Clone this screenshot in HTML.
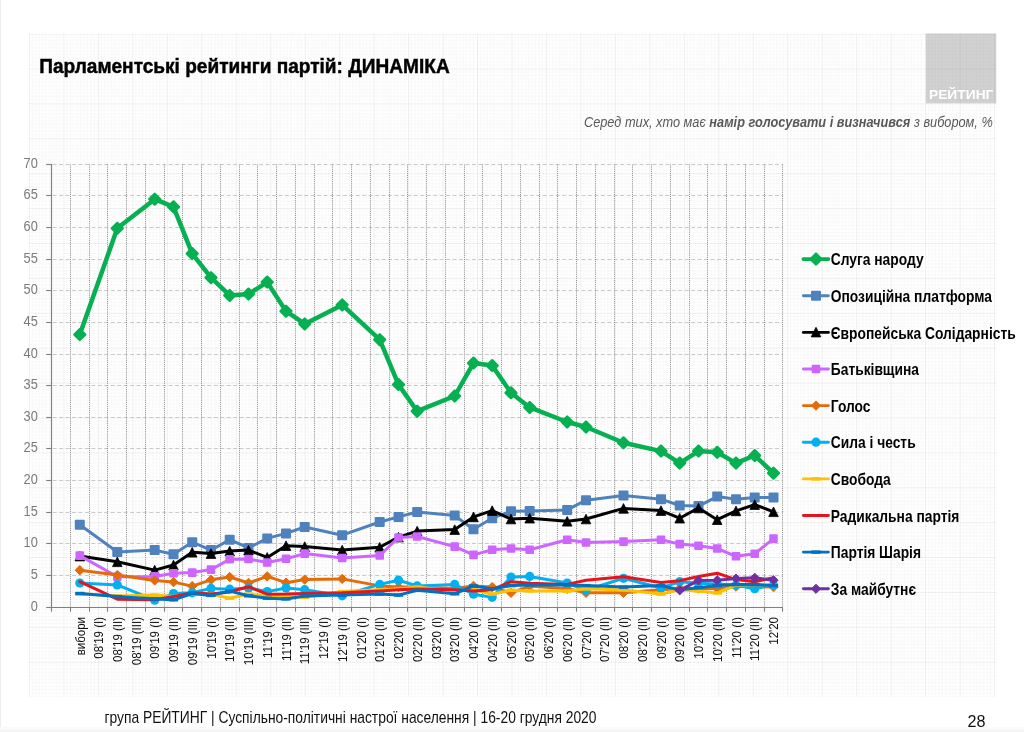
<!DOCTYPE html>
<html lang="uk"><head><meta charset="utf-8"><title>Парламентські рейтинги партій: ДИНАМІКА</title>
<style>
html,body{margin:0;padding:0;background:#fff;}
body{width:1024px;height:732px;overflow:hidden;font-family:"Liberation Sans",sans-serif;}
svg{display:block;}
svg text{font-family:"Liberation Sans",sans-serif;}
</style></head><body>
<svg width="1024" height="732" viewBox="0 0 1024 732">
<defs>
<pattern id="gp" x="28.9" y="33.6" width="34.47" height="34.9" patternUnits="userSpaceOnUse">
<path d="M3.45 0V34.9M6.89 0V34.9M10.34 0V34.9M13.79 0V34.9M17.23 0V34.9M20.68 0V34.9M24.13 0V34.9M27.58 0V34.9M31.02 0V34.9M0 3.49H34.47M0 6.98H34.47M0 10.47H34.47M0 13.96H34.47M0 17.45H34.47M0 20.94H34.47M0 24.43H34.47M0 27.92H34.47M0 31.41H34.47" stroke="#000" stroke-opacity="0.03" stroke-width="0.7" fill="none"/>
<path d="M0.5 0V34.9M0 0.5H34.47" stroke="#000" stroke-opacity="0.085" stroke-width="0.7" fill="none"/>
</pattern>
</defs>
<rect width="1024" height="732" fill="#ffffff"/>
<rect x="0" y="0" width="1" height="732" fill="#eeeeee"/>
<rect x="0" y="727" width="1024" height="5" fill="#fafafa"/>
<rect x="0" y="730" width="1024" height="2" fill="#f4f4f4"/>

<rect x="925.8" y="33.5" width="70.4" height="69.8" fill="#d2d2d2"/>
<rect x="28.9" y="33.6" width="967.4" height="663.2" fill="url(#gp)"/>
<text x="961.2" y="99.4" font-size="13.3" font-weight="bold" fill="#ffffff" text-anchor="middle" textLength="64.5" lengthAdjust="spacingAndGlyphs">РЕЙТИНГ</text>
<text transform="translate(39.2,72.7) scale(0.94,1)" font-size="20.3" font-weight="bold" fill="#000" stroke="#000" stroke-width="0.45">Парламентські рейтинги партій: ДИНАМІКА</text>
<text transform="translate(992.8,126.5) scale(0.875,1)" font-size="14.6" font-style="italic" fill="#595959" text-anchor="end">Серед тих, хто має <tspan font-weight="bold">намір голосувати і визначився</tspan> з вибором, %</text>
<line x1="52.63" x2="783" y1="575.5" y2="575.5" stroke="#cacaca" stroke-width="1" stroke-dasharray="4 2.45"/>
<line x1="52.63" x2="783" y1="543.5" y2="543.5" stroke="#cacaca" stroke-width="1" stroke-dasharray="4 2.45"/>
<line x1="52.63" x2="783" y1="512.5" y2="512.5" stroke="#cacaca" stroke-width="1" stroke-dasharray="4 2.45"/>
<line x1="52.63" x2="783" y1="480.5" y2="480.5" stroke="#cacaca" stroke-width="1" stroke-dasharray="4 2.45"/>
<line x1="52.63" x2="783" y1="448.5" y2="448.5" stroke="#cacaca" stroke-width="1" stroke-dasharray="4 2.45"/>
<line x1="52.63" x2="783" y1="417.5" y2="417.5" stroke="#cacaca" stroke-width="1" stroke-dasharray="4 2.45"/>
<line x1="52.63" x2="783" y1="385.5" y2="385.5" stroke="#cacaca" stroke-width="1" stroke-dasharray="4 2.45"/>
<line x1="52.63" x2="783" y1="354.5" y2="354.5" stroke="#cacaca" stroke-width="1" stroke-dasharray="4 2.45"/>
<line x1="52.63" x2="783" y1="322.5" y2="322.5" stroke="#cacaca" stroke-width="1" stroke-dasharray="4 2.45"/>
<line x1="52.63" x2="783" y1="290.5" y2="290.5" stroke="#cacaca" stroke-width="1" stroke-dasharray="4 2.45"/>
<line x1="52.63" x2="783" y1="259.5" y2="259.5" stroke="#cacaca" stroke-width="1" stroke-dasharray="4 2.45"/>
<line x1="52.63" x2="783" y1="227.5" y2="227.5" stroke="#cacaca" stroke-width="1" stroke-dasharray="4 2.45"/>
<line x1="52.63" x2="783" y1="195.5" y2="195.5" stroke="#cacaca" stroke-width="1" stroke-dasharray="4 2.45"/>
<line x1="52.63" x2="783" y1="164.5" y2="164.5" stroke="#cacaca" stroke-width="1" stroke-dasharray="4 2.45"/>
<line x1="70.5" x2="70.5" y1="164.5" y2="607" stroke="#8a8a8a" stroke-width="1" stroke-dasharray="1 1.1"/>
<line x1="89.5" x2="89.5" y1="164.5" y2="607" stroke="#8a8a8a" stroke-width="1" stroke-dasharray="1 1.1"/>
<line x1="107.5" x2="107.5" y1="164.5" y2="607" stroke="#8a8a8a" stroke-width="1" stroke-dasharray="1 1.1"/>
<line x1="126.5" x2="126.5" y1="164.5" y2="607" stroke="#8a8a8a" stroke-width="1" stroke-dasharray="1 1.1"/>
<line x1="145.5" x2="145.5" y1="164.5" y2="607" stroke="#8a8a8a" stroke-width="1" stroke-dasharray="1 1.1"/>
<line x1="164.5" x2="164.5" y1="164.5" y2="607" stroke="#8a8a8a" stroke-width="1" stroke-dasharray="1 1.1"/>
<line x1="182.5" x2="182.5" y1="164.5" y2="607" stroke="#8a8a8a" stroke-width="1" stroke-dasharray="1 1.1"/>
<line x1="201.5" x2="201.5" y1="164.5" y2="607" stroke="#8a8a8a" stroke-width="1" stroke-dasharray="1 1.1"/>
<line x1="220.5" x2="220.5" y1="164.5" y2="607" stroke="#8a8a8a" stroke-width="1" stroke-dasharray="1 1.1"/>
<line x1="239.5" x2="239.5" y1="164.5" y2="607" stroke="#8a8a8a" stroke-width="1" stroke-dasharray="1 1.1"/>
<line x1="257.5" x2="257.5" y1="164.5" y2="607" stroke="#8a8a8a" stroke-width="1" stroke-dasharray="1 1.1"/>
<line x1="276.5" x2="276.5" y1="164.5" y2="607" stroke="#8a8a8a" stroke-width="1" stroke-dasharray="1 1.1"/>
<line x1="295.5" x2="295.5" y1="164.5" y2="607" stroke="#8a8a8a" stroke-width="1" stroke-dasharray="1 1.1"/>
<line x1="314.5" x2="314.5" y1="164.5" y2="607" stroke="#8a8a8a" stroke-width="1" stroke-dasharray="1 1.1"/>
<line x1="332.5" x2="332.5" y1="164.5" y2="607" stroke="#8a8a8a" stroke-width="1" stroke-dasharray="1 1.1"/>
<line x1="351.5" x2="351.5" y1="164.5" y2="607" stroke="#8a8a8a" stroke-width="1" stroke-dasharray="1 1.1"/>
<line x1="370.5" x2="370.5" y1="164.5" y2="607" stroke="#8a8a8a" stroke-width="1" stroke-dasharray="1 1.1"/>
<line x1="389.5" x2="389.5" y1="164.5" y2="607" stroke="#8a8a8a" stroke-width="1" stroke-dasharray="1 1.1"/>
<line x1="407.5" x2="407.5" y1="164.5" y2="607" stroke="#8a8a8a" stroke-width="1" stroke-dasharray="1 1.1"/>
<line x1="426.5" x2="426.5" y1="164.5" y2="607" stroke="#8a8a8a" stroke-width="1" stroke-dasharray="1 1.1"/>
<line x1="445.5" x2="445.5" y1="164.5" y2="607" stroke="#8a8a8a" stroke-width="1" stroke-dasharray="1 1.1"/>
<line x1="464.5" x2="464.5" y1="164.5" y2="607" stroke="#8a8a8a" stroke-width="1" stroke-dasharray="1 1.1"/>
<line x1="482.5" x2="482.5" y1="164.5" y2="607" stroke="#8a8a8a" stroke-width="1" stroke-dasharray="1 1.1"/>
<line x1="501.5" x2="501.5" y1="164.5" y2="607" stroke="#8a8a8a" stroke-width="1" stroke-dasharray="1 1.1"/>
<line x1="520.5" x2="520.5" y1="164.5" y2="607" stroke="#8a8a8a" stroke-width="1" stroke-dasharray="1 1.1"/>
<line x1="539.5" x2="539.5" y1="164.5" y2="607" stroke="#8a8a8a" stroke-width="1" stroke-dasharray="1 1.1"/>
<line x1="557.5" x2="557.5" y1="164.5" y2="607" stroke="#8a8a8a" stroke-width="1" stroke-dasharray="1 1.1"/>
<line x1="576.5" x2="576.5" y1="164.5" y2="607" stroke="#8a8a8a" stroke-width="1" stroke-dasharray="1 1.1"/>
<line x1="595.5" x2="595.5" y1="164.5" y2="607" stroke="#8a8a8a" stroke-width="1" stroke-dasharray="1 1.1"/>
<line x1="614.5" x2="614.5" y1="164.5" y2="607" stroke="#8a8a8a" stroke-width="1" stroke-dasharray="1 1.1"/>
<line x1="632.5" x2="632.5" y1="164.5" y2="607" stroke="#8a8a8a" stroke-width="1" stroke-dasharray="1 1.1"/>
<line x1="651.5" x2="651.5" y1="164.5" y2="607" stroke="#8a8a8a" stroke-width="1" stroke-dasharray="1 1.1"/>
<line x1="670.5" x2="670.5" y1="164.5" y2="607" stroke="#8a8a8a" stroke-width="1" stroke-dasharray="1 1.1"/>
<line x1="689.5" x2="689.5" y1="164.5" y2="607" stroke="#8a8a8a" stroke-width="1" stroke-dasharray="1 1.1"/>
<line x1="707.5" x2="707.5" y1="164.5" y2="607" stroke="#8a8a8a" stroke-width="1" stroke-dasharray="1 1.1"/>
<line x1="726.5" x2="726.5" y1="164.5" y2="607" stroke="#8a8a8a" stroke-width="1" stroke-dasharray="1 1.1"/>
<line x1="745.5" x2="745.5" y1="164.5" y2="607" stroke="#8a8a8a" stroke-width="1" stroke-dasharray="1 1.1"/>
<line x1="764.5" x2="764.5" y1="164.5" y2="607" stroke="#8a8a8a" stroke-width="1" stroke-dasharray="1 1.1"/>
<line x1="782.5" x2="782.5" y1="164.5" y2="607" stroke="#8a8a8a" stroke-width="1" stroke-dasharray="1 1.1"/>
<line x1="51.5" x2="51.5" y1="164.0" y2="608" stroke="#808080" stroke-width="1.15"/>
<line x1="51" x2="783" y1="607.5" y2="607.5" stroke="#808080" stroke-width="1.15"/>
<line x1="46.2" x2="51.5" y1="607.5" y2="607.5" stroke="#808080" stroke-width="1.1"/>
<text transform="translate(37.8,611.1) scale(0.875,1)" font-size="14.6" fill="#7a7a7a" text-anchor="end">0</text>
<line x1="46.2" x2="51.5" y1="575.5" y2="575.5" stroke="#808080" stroke-width="1.1"/>
<text transform="translate(37.8,579.1) scale(0.875,1)" font-size="14.6" fill="#7a7a7a" text-anchor="end">5</text>
<line x1="46.2" x2="51.5" y1="543.5" y2="543.5" stroke="#808080" stroke-width="1.1"/>
<text transform="translate(37.8,547.1) scale(0.875,1)" font-size="14.6" fill="#7a7a7a" text-anchor="end">10</text>
<line x1="46.2" x2="51.5" y1="512.5" y2="512.5" stroke="#808080" stroke-width="1.1"/>
<text transform="translate(37.8,516.1) scale(0.875,1)" font-size="14.6" fill="#7a7a7a" text-anchor="end">15</text>
<line x1="46.2" x2="51.5" y1="480.5" y2="480.5" stroke="#808080" stroke-width="1.1"/>
<text transform="translate(37.8,484.1) scale(0.875,1)" font-size="14.6" fill="#7a7a7a" text-anchor="end">20</text>
<line x1="46.2" x2="51.5" y1="448.5" y2="448.5" stroke="#808080" stroke-width="1.1"/>
<text transform="translate(37.8,452.1) scale(0.875,1)" font-size="14.6" fill="#7a7a7a" text-anchor="end">25</text>
<line x1="46.2" x2="51.5" y1="417.5" y2="417.5" stroke="#808080" stroke-width="1.1"/>
<text transform="translate(37.8,421.1) scale(0.875,1)" font-size="14.6" fill="#7a7a7a" text-anchor="end">30</text>
<line x1="46.2" x2="51.5" y1="385.5" y2="385.5" stroke="#808080" stroke-width="1.1"/>
<text transform="translate(37.8,389.1) scale(0.875,1)" font-size="14.6" fill="#7a7a7a" text-anchor="end">35</text>
<line x1="46.2" x2="51.5" y1="354.5" y2="354.5" stroke="#808080" stroke-width="1.1"/>
<text transform="translate(37.8,358.1) scale(0.875,1)" font-size="14.6" fill="#7a7a7a" text-anchor="end">40</text>
<line x1="46.2" x2="51.5" y1="322.5" y2="322.5" stroke="#808080" stroke-width="1.1"/>
<text transform="translate(37.8,326.1) scale(0.875,1)" font-size="14.6" fill="#7a7a7a" text-anchor="end">45</text>
<line x1="46.2" x2="51.5" y1="290.5" y2="290.5" stroke="#808080" stroke-width="1.1"/>
<text transform="translate(37.8,294.1) scale(0.875,1)" font-size="14.6" fill="#7a7a7a" text-anchor="end">50</text>
<line x1="46.2" x2="51.5" y1="259.5" y2="259.5" stroke="#808080" stroke-width="1.1"/>
<text transform="translate(37.8,263.1) scale(0.875,1)" font-size="14.6" fill="#7a7a7a" text-anchor="end">55</text>
<line x1="46.2" x2="51.5" y1="227.5" y2="227.5" stroke="#808080" stroke-width="1.1"/>
<text transform="translate(37.8,231.1) scale(0.875,1)" font-size="14.6" fill="#7a7a7a" text-anchor="end">60</text>
<line x1="46.2" x2="51.5" y1="195.5" y2="195.5" stroke="#808080" stroke-width="1.1"/>
<text transform="translate(37.8,199.1) scale(0.875,1)" font-size="14.6" fill="#7a7a7a" text-anchor="end">65</text>
<line x1="46.2" x2="51.5" y1="164.5" y2="164.5" stroke="#808080" stroke-width="1.1"/>
<text transform="translate(37.8,168.1) scale(0.875,1)" font-size="14.6" fill="#7a7a7a" text-anchor="end">70</text>
<line x1="51.5" x2="51.5" y1="607.5" y2="611.7" stroke="#808080" stroke-width="1.1"/>
<line x1="70.5" x2="70.5" y1="607.5" y2="611.7" stroke="#808080" stroke-width="1.1"/>
<line x1="89.5" x2="89.5" y1="607.5" y2="611.7" stroke="#808080" stroke-width="1.1"/>
<line x1="107.5" x2="107.5" y1="607.5" y2="611.7" stroke="#808080" stroke-width="1.1"/>
<line x1="126.5" x2="126.5" y1="607.5" y2="611.7" stroke="#808080" stroke-width="1.1"/>
<line x1="145.5" x2="145.5" y1="607.5" y2="611.7" stroke="#808080" stroke-width="1.1"/>
<line x1="164.5" x2="164.5" y1="607.5" y2="611.7" stroke="#808080" stroke-width="1.1"/>
<line x1="182.5" x2="182.5" y1="607.5" y2="611.7" stroke="#808080" stroke-width="1.1"/>
<line x1="201.5" x2="201.5" y1="607.5" y2="611.7" stroke="#808080" stroke-width="1.1"/>
<line x1="220.5" x2="220.5" y1="607.5" y2="611.7" stroke="#808080" stroke-width="1.1"/>
<line x1="239.5" x2="239.5" y1="607.5" y2="611.7" stroke="#808080" stroke-width="1.1"/>
<line x1="257.5" x2="257.5" y1="607.5" y2="611.7" stroke="#808080" stroke-width="1.1"/>
<line x1="276.5" x2="276.5" y1="607.5" y2="611.7" stroke="#808080" stroke-width="1.1"/>
<line x1="295.5" x2="295.5" y1="607.5" y2="611.7" stroke="#808080" stroke-width="1.1"/>
<line x1="314.5" x2="314.5" y1="607.5" y2="611.7" stroke="#808080" stroke-width="1.1"/>
<line x1="332.5" x2="332.5" y1="607.5" y2="611.7" stroke="#808080" stroke-width="1.1"/>
<line x1="351.5" x2="351.5" y1="607.5" y2="611.7" stroke="#808080" stroke-width="1.1"/>
<line x1="370.5" x2="370.5" y1="607.5" y2="611.7" stroke="#808080" stroke-width="1.1"/>
<line x1="389.5" x2="389.5" y1="607.5" y2="611.7" stroke="#808080" stroke-width="1.1"/>
<line x1="407.5" x2="407.5" y1="607.5" y2="611.7" stroke="#808080" stroke-width="1.1"/>
<line x1="426.5" x2="426.5" y1="607.5" y2="611.7" stroke="#808080" stroke-width="1.1"/>
<line x1="445.5" x2="445.5" y1="607.5" y2="611.7" stroke="#808080" stroke-width="1.1"/>
<line x1="464.5" x2="464.5" y1="607.5" y2="611.7" stroke="#808080" stroke-width="1.1"/>
<line x1="482.5" x2="482.5" y1="607.5" y2="611.7" stroke="#808080" stroke-width="1.1"/>
<line x1="501.5" x2="501.5" y1="607.5" y2="611.7" stroke="#808080" stroke-width="1.1"/>
<line x1="520.5" x2="520.5" y1="607.5" y2="611.7" stroke="#808080" stroke-width="1.1"/>
<line x1="539.5" x2="539.5" y1="607.5" y2="611.7" stroke="#808080" stroke-width="1.1"/>
<line x1="557.5" x2="557.5" y1="607.5" y2="611.7" stroke="#808080" stroke-width="1.1"/>
<line x1="576.5" x2="576.5" y1="607.5" y2="611.7" stroke="#808080" stroke-width="1.1"/>
<line x1="595.5" x2="595.5" y1="607.5" y2="611.7" stroke="#808080" stroke-width="1.1"/>
<line x1="614.5" x2="614.5" y1="607.5" y2="611.7" stroke="#808080" stroke-width="1.1"/>
<line x1="632.5" x2="632.5" y1="607.5" y2="611.7" stroke="#808080" stroke-width="1.1"/>
<line x1="651.5" x2="651.5" y1="607.5" y2="611.7" stroke="#808080" stroke-width="1.1"/>
<line x1="670.5" x2="670.5" y1="607.5" y2="611.7" stroke="#808080" stroke-width="1.1"/>
<line x1="689.5" x2="689.5" y1="607.5" y2="611.7" stroke="#808080" stroke-width="1.1"/>
<line x1="707.5" x2="707.5" y1="607.5" y2="611.7" stroke="#808080" stroke-width="1.1"/>
<line x1="726.5" x2="726.5" y1="607.5" y2="611.7" stroke="#808080" stroke-width="1.1"/>
<line x1="745.5" x2="745.5" y1="607.5" y2="611.7" stroke="#808080" stroke-width="1.1"/>
<line x1="764.5" x2="764.5" y1="607.5" y2="611.7" stroke="#808080" stroke-width="1.1"/>
<line x1="782.5" x2="782.5" y1="607.5" y2="611.7" stroke="#808080" stroke-width="1.1"/>
<text transform="translate(84.5,617) rotate(-90) scale(0.845,1)" font-size="13.6" fill="#111" text-anchor="end">вибори</text>
<text transform="translate(103.2,617) rotate(-90) scale(0.845,1)" font-size="13.6" fill="#111" text-anchor="end">08'19 (I)</text>
<text transform="translate(122.0,617) rotate(-90) scale(0.845,1)" font-size="13.6" fill="#111" text-anchor="end">08'19 (II)</text>
<text transform="translate(140.7,617) rotate(-90) scale(0.845,1)" font-size="13.6" fill="#111" text-anchor="end">08'19 (III)</text>
<text transform="translate(159.4,617) rotate(-90) scale(0.845,1)" font-size="13.6" fill="#111" text-anchor="end">09'19 (I)</text>
<text transform="translate(178.2,617) rotate(-90) scale(0.845,1)" font-size="13.6" fill="#111" text-anchor="end">09'19 (II)</text>
<text transform="translate(196.9,617) rotate(-90) scale(0.845,1)" font-size="13.6" fill="#111" text-anchor="end">09'19 (III)</text>
<text transform="translate(215.7,617) rotate(-90) scale(0.845,1)" font-size="13.6" fill="#111" text-anchor="end">10'19 (I)</text>
<text transform="translate(234.4,617) rotate(-90) scale(0.845,1)" font-size="13.6" fill="#111" text-anchor="end">10'19 (II)</text>
<text transform="translate(253.2,617) rotate(-90) scale(0.845,1)" font-size="13.6" fill="#111" text-anchor="end">10'19 (III)</text>
<text transform="translate(271.9,617) rotate(-90) scale(0.845,1)" font-size="13.6" fill="#111" text-anchor="end">11'19 (I)</text>
<text transform="translate(290.7,617) rotate(-90) scale(0.845,1)" font-size="13.6" fill="#111" text-anchor="end">11'19 (II)</text>
<text transform="translate(309.4,617) rotate(-90) scale(0.845,1)" font-size="13.6" fill="#111" text-anchor="end">11'19 (III)</text>
<text transform="translate(328.2,617) rotate(-90) scale(0.845,1)" font-size="13.6" fill="#111" text-anchor="end">12'19 (I)</text>
<text transform="translate(346.9,617) rotate(-90) scale(0.845,1)" font-size="13.6" fill="#111" text-anchor="end">12'19 (II)</text>
<text transform="translate(365.7,617) rotate(-90) scale(0.845,1)" font-size="13.6" fill="#111" text-anchor="end">01'20 (I)</text>
<text transform="translate(384.4,617) rotate(-90) scale(0.845,1)" font-size="13.6" fill="#111" text-anchor="end">01'20 (II)</text>
<text transform="translate(403.2,617) rotate(-90) scale(0.845,1)" font-size="13.6" fill="#111" text-anchor="end">02'20 (I)</text>
<text transform="translate(421.9,617) rotate(-90) scale(0.845,1)" font-size="13.6" fill="#111" text-anchor="end">02'20 (II)</text>
<text transform="translate(440.7,617) rotate(-90) scale(0.845,1)" font-size="13.6" fill="#111" text-anchor="end">03'20 (I)</text>
<text transform="translate(459.4,617) rotate(-90) scale(0.845,1)" font-size="13.6" fill="#111" text-anchor="end">03'20 (II)</text>
<text transform="translate(478.2,617) rotate(-90) scale(0.845,1)" font-size="13.6" fill="#111" text-anchor="end">04'20 (I)</text>
<text transform="translate(496.9,617) rotate(-90) scale(0.845,1)" font-size="13.6" fill="#111" text-anchor="end">04'20 (II)</text>
<text transform="translate(515.7,617) rotate(-90) scale(0.845,1)" font-size="13.6" fill="#111" text-anchor="end">05'20 (I)</text>
<text transform="translate(534.4,617) rotate(-90) scale(0.845,1)" font-size="13.6" fill="#111" text-anchor="end">05'20 (II)</text>
<text transform="translate(553.2,617) rotate(-90) scale(0.845,1)" font-size="13.6" fill="#111" text-anchor="end">06'20 (I)</text>
<text transform="translate(571.9,617) rotate(-90) scale(0.845,1)" font-size="13.6" fill="#111" text-anchor="end">06'20 (II)</text>
<text transform="translate(590.7,617) rotate(-90) scale(0.845,1)" font-size="13.6" fill="#111" text-anchor="end">07'20 (I)</text>
<text transform="translate(609.4,617) rotate(-90) scale(0.845,1)" font-size="13.6" fill="#111" text-anchor="end">07'20 (II)</text>
<text transform="translate(628.2,617) rotate(-90) scale(0.845,1)" font-size="13.6" fill="#111" text-anchor="end">08'20 (I)</text>
<text transform="translate(646.9,617) rotate(-90) scale(0.845,1)" font-size="13.6" fill="#111" text-anchor="end">08'20 (II)</text>
<text transform="translate(665.7,617) rotate(-90) scale(0.845,1)" font-size="13.6" fill="#111" text-anchor="end">09'20 (I)</text>
<text transform="translate(684.4,617) rotate(-90) scale(0.845,1)" font-size="13.6" fill="#111" text-anchor="end">09'20 (II)</text>
<text transform="translate(703.2,617) rotate(-90) scale(0.845,1)" font-size="13.6" fill="#111" text-anchor="end">10'20 (I)</text>
<text transform="translate(721.9,617) rotate(-90) scale(0.845,1)" font-size="13.6" fill="#111" text-anchor="end">10'20 (II)</text>
<text transform="translate(740.7,617) rotate(-90) scale(0.845,1)" font-size="13.6" fill="#111" text-anchor="end">11'20 (I)</text>
<text transform="translate(759.4,617) rotate(-90) scale(0.845,1)" font-size="13.6" fill="#111" text-anchor="end">11'20 (II)</text>
<text transform="translate(778.2,617) rotate(-90) scale(0.845,1)" font-size="13.6" fill="#111" text-anchor="end">12'20</text>
<polyline points="79.8,334.6 117.3,228.3 154.7,199.2 173.5,206.8 192.2,253.6 211.0,277.7 229.7,295.4 248.5,294.1 267.2,282.1 286.0,311.2 304.7,323.9 342.2,304.9 379.7,339.7 398.5,384.6 417.2,411.2 454.7,396.0 473.5,363.1 492.2,365.6 511.0,392.8 529.7,407.4 567.2,422.0 586.0,427.0 623.5,442.8 661.0,451.1 679.7,463.1 698.5,451.1 717.2,452.3 736.0,463.1 754.7,455.5 773.5,473.2" fill="none" stroke="#06b051" stroke-width="4.5" stroke-linejoin="round" stroke-linecap="round"/>
<path d="M79.8 329.2L85.2 334.6L79.8 340.0L74.4 334.6Z" fill="#06b051" stroke="#06b051" stroke-width="2.4" stroke-linejoin="round"/>
<path d="M117.3 222.9L122.7 228.3L117.3 233.7L111.9 228.3Z" fill="#06b051" stroke="#06b051" stroke-width="2.4" stroke-linejoin="round"/>
<path d="M154.7 193.8L160.1 199.2L154.7 204.6L149.3 199.2Z" fill="#06b051" stroke="#06b051" stroke-width="2.4" stroke-linejoin="round"/>
<path d="M173.5 201.4L178.9 206.8L173.5 212.2L168.1 206.8Z" fill="#06b051" stroke="#06b051" stroke-width="2.4" stroke-linejoin="round"/>
<path d="M192.2 248.2L197.6 253.6L192.2 259.0L186.8 253.6Z" fill="#06b051" stroke="#06b051" stroke-width="2.4" stroke-linejoin="round"/>
<path d="M211.0 272.3L216.4 277.7L211.0 283.1L205.6 277.7Z" fill="#06b051" stroke="#06b051" stroke-width="2.4" stroke-linejoin="round"/>
<path d="M229.7 290.0L235.1 295.4L229.7 300.8L224.3 295.4Z" fill="#06b051" stroke="#06b051" stroke-width="2.4" stroke-linejoin="round"/>
<path d="M248.5 288.7L253.9 294.1L248.5 299.5L243.1 294.1Z" fill="#06b051" stroke="#06b051" stroke-width="2.4" stroke-linejoin="round"/>
<path d="M267.2 276.7L272.6 282.1L267.2 287.5L261.8 282.1Z" fill="#06b051" stroke="#06b051" stroke-width="2.4" stroke-linejoin="round"/>
<path d="M286.0 305.8L291.4 311.2L286.0 316.6L280.6 311.2Z" fill="#06b051" stroke="#06b051" stroke-width="2.4" stroke-linejoin="round"/>
<path d="M304.7 318.5L310.1 323.9L304.7 329.3L299.3 323.9Z" fill="#06b051" stroke="#06b051" stroke-width="2.4" stroke-linejoin="round"/>
<path d="M342.2 299.5L347.6 304.9L342.2 310.3L336.8 304.9Z" fill="#06b051" stroke="#06b051" stroke-width="2.4" stroke-linejoin="round"/>
<path d="M379.7 334.3L385.1 339.7L379.7 345.1L374.3 339.7Z" fill="#06b051" stroke="#06b051" stroke-width="2.4" stroke-linejoin="round"/>
<path d="M398.5 379.2L403.9 384.6L398.5 390.0L393.1 384.6Z" fill="#06b051" stroke="#06b051" stroke-width="2.4" stroke-linejoin="round"/>
<path d="M417.2 405.8L422.6 411.2L417.2 416.6L411.8 411.2Z" fill="#06b051" stroke="#06b051" stroke-width="2.4" stroke-linejoin="round"/>
<path d="M454.7 390.6L460.1 396.0L454.7 401.4L449.3 396.0Z" fill="#06b051" stroke="#06b051" stroke-width="2.4" stroke-linejoin="round"/>
<path d="M473.5 357.7L478.9 363.1L473.5 368.5L468.1 363.1Z" fill="#06b051" stroke="#06b051" stroke-width="2.4" stroke-linejoin="round"/>
<path d="M492.2 360.2L497.6 365.6L492.2 371.0L486.8 365.6Z" fill="#06b051" stroke="#06b051" stroke-width="2.4" stroke-linejoin="round"/>
<path d="M511.0 387.4L516.4 392.8L511.0 398.2L505.6 392.8Z" fill="#06b051" stroke="#06b051" stroke-width="2.4" stroke-linejoin="round"/>
<path d="M529.7 402.0L535.1 407.4L529.7 412.8L524.3 407.4Z" fill="#06b051" stroke="#06b051" stroke-width="2.4" stroke-linejoin="round"/>
<path d="M567.2 416.6L572.6 422.0L567.2 427.4L561.8 422.0Z" fill="#06b051" stroke="#06b051" stroke-width="2.4" stroke-linejoin="round"/>
<path d="M586.0 421.6L591.4 427.0L586.0 432.4L580.6 427.0Z" fill="#06b051" stroke="#06b051" stroke-width="2.4" stroke-linejoin="round"/>
<path d="M623.5 437.4L628.9 442.8L623.5 448.2L618.1 442.8Z" fill="#06b051" stroke="#06b051" stroke-width="2.4" stroke-linejoin="round"/>
<path d="M661.0 445.7L666.4 451.1L661.0 456.5L655.6 451.1Z" fill="#06b051" stroke="#06b051" stroke-width="2.4" stroke-linejoin="round"/>
<path d="M679.7 457.7L685.1 463.1L679.7 468.5L674.3 463.1Z" fill="#06b051" stroke="#06b051" stroke-width="2.4" stroke-linejoin="round"/>
<path d="M698.5 445.7L703.9 451.1L698.5 456.5L693.1 451.1Z" fill="#06b051" stroke="#06b051" stroke-width="2.4" stroke-linejoin="round"/>
<path d="M717.2 446.9L722.6 452.3L717.2 457.7L711.8 452.3Z" fill="#06b051" stroke="#06b051" stroke-width="2.4" stroke-linejoin="round"/>
<path d="M736.0 457.7L741.4 463.1L736.0 468.5L730.6 463.1Z" fill="#06b051" stroke="#06b051" stroke-width="2.4" stroke-linejoin="round"/>
<path d="M754.7 450.1L760.1 455.5L754.7 460.9L749.3 455.5Z" fill="#06b051" stroke="#06b051" stroke-width="2.4" stroke-linejoin="round"/>
<path d="M773.5 467.8L778.9 473.2L773.5 478.6L768.1 473.2Z" fill="#06b051" stroke="#06b051" stroke-width="2.4" stroke-linejoin="round"/>
<polyline points="79.8,524.8 117.3,552.0 154.7,550.1 173.5,554.2 192.2,542.2 211.0,550.1 229.7,539.7 248.5,547.9 267.2,538.4 286.0,533.4 304.7,527.0 342.2,535.2 379.7,522.0 398.5,516.9 417.2,512.0 454.7,515.6 473.5,529.2 492.2,518.2 511.0,511.2 529.7,510.9 567.2,509.9 586.0,500.2 623.5,495.4 661.0,499.2 679.7,505.5 698.5,506.1 717.2,496.6 736.0,499.2 754.7,497.6 773.5,497.6" fill="none" stroke="#4f81bd" stroke-width="3" stroke-linejoin="round" stroke-linecap="round"/>
<rect x="74.8" y="519.8" width="10.0" height="10.0" rx="1" fill="#4f81bd"/>
<rect x="112.3" y="547.0" width="10.0" height="10.0" rx="1" fill="#4f81bd"/>
<rect x="149.7" y="545.1" width="10.0" height="10.0" rx="1" fill="#4f81bd"/>
<rect x="168.5" y="549.2" width="10.0" height="10.0" rx="1" fill="#4f81bd"/>
<rect x="187.2" y="537.2" width="10.0" height="10.0" rx="1" fill="#4f81bd"/>
<rect x="206.0" y="545.1" width="10.0" height="10.0" rx="1" fill="#4f81bd"/>
<rect x="224.7" y="534.7" width="10.0" height="10.0" rx="1" fill="#4f81bd"/>
<rect x="243.5" y="542.9" width="10.0" height="10.0" rx="1" fill="#4f81bd"/>
<rect x="262.2" y="533.4" width="10.0" height="10.0" rx="1" fill="#4f81bd"/>
<rect x="281.0" y="528.4" width="10.0" height="10.0" rx="1" fill="#4f81bd"/>
<rect x="299.7" y="522.0" width="10.0" height="10.0" rx="1" fill="#4f81bd"/>
<rect x="337.2" y="530.2" width="10.0" height="10.0" rx="1" fill="#4f81bd"/>
<rect x="374.7" y="517.0" width="10.0" height="10.0" rx="1" fill="#4f81bd"/>
<rect x="393.5" y="511.9" width="10.0" height="10.0" rx="1" fill="#4f81bd"/>
<rect x="412.2" y="507.0" width="10.0" height="10.0" rx="1" fill="#4f81bd"/>
<rect x="449.7" y="510.6" width="10.0" height="10.0" rx="1" fill="#4f81bd"/>
<rect x="468.5" y="524.2" width="10.0" height="10.0" rx="1" fill="#4f81bd"/>
<rect x="487.2" y="513.2" width="10.0" height="10.0" rx="1" fill="#4f81bd"/>
<rect x="506.0" y="506.2" width="10.0" height="10.0" rx="1" fill="#4f81bd"/>
<rect x="524.7" y="505.9" width="10.0" height="10.0" rx="1" fill="#4f81bd"/>
<rect x="562.2" y="504.9" width="10.0" height="10.0" rx="1" fill="#4f81bd"/>
<rect x="581.0" y="495.2" width="10.0" height="10.0" rx="1" fill="#4f81bd"/>
<rect x="618.5" y="490.4" width="10.0" height="10.0" rx="1" fill="#4f81bd"/>
<rect x="656.0" y="494.2" width="10.0" height="10.0" rx="1" fill="#4f81bd"/>
<rect x="674.7" y="500.5" width="10.0" height="10.0" rx="1" fill="#4f81bd"/>
<rect x="693.5" y="501.1" width="10.0" height="10.0" rx="1" fill="#4f81bd"/>
<rect x="712.2" y="491.6" width="10.0" height="10.0" rx="1" fill="#4f81bd"/>
<rect x="731.0" y="494.2" width="10.0" height="10.0" rx="1" fill="#4f81bd"/>
<rect x="749.7" y="492.6" width="10.0" height="10.0" rx="1" fill="#4f81bd"/>
<rect x="768.5" y="492.6" width="10.0" height="10.0" rx="1" fill="#4f81bd"/>
<polyline points="79.8,556.1 117.3,561.8 154.7,570.1 173.5,565.0 192.2,552.3 211.0,553.6 229.7,551.1 248.5,550.1 267.2,557.4 286.0,545.7 304.7,546.6 342.2,550.1 379.7,547.3 398.5,537.1 417.2,531.1 454.7,529.6 473.5,516.9 492.2,510.6 511.0,519.0 529.7,518.2 567.2,521.3 586.0,519.0 623.5,508.4 661.0,510.6 679.7,518.2 698.5,508.0 717.2,519.7 736.0,510.9 754.7,504.6 773.5,511.8" fill="none" stroke="#000000" stroke-width="3" stroke-linejoin="round" stroke-linecap="round"/>
<path d="M79.8 551.3L84.6 560.9L75.0 560.9Z" fill="#000000" stroke="#000000" stroke-width="0.8" stroke-linejoin="round"/>
<path d="M117.3 557.0L122.1 566.6L112.5 566.6Z" fill="#000000" stroke="#000000" stroke-width="0.8" stroke-linejoin="round"/>
<path d="M154.7 565.3L159.5 574.9L149.9 574.9Z" fill="#000000" stroke="#000000" stroke-width="0.8" stroke-linejoin="round"/>
<path d="M173.5 560.2L178.3 569.8L168.7 569.8Z" fill="#000000" stroke="#000000" stroke-width="0.8" stroke-linejoin="round"/>
<path d="M192.2 547.5L197.0 557.1L187.4 557.1Z" fill="#000000" stroke="#000000" stroke-width="0.8" stroke-linejoin="round"/>
<path d="M211.0 548.8L215.8 558.4L206.2 558.4Z" fill="#000000" stroke="#000000" stroke-width="0.8" stroke-linejoin="round"/>
<path d="M229.7 546.3L234.5 555.9L224.9 555.9Z" fill="#000000" stroke="#000000" stroke-width="0.8" stroke-linejoin="round"/>
<path d="M248.5 545.3L253.3 554.9L243.7 554.9Z" fill="#000000" stroke="#000000" stroke-width="0.8" stroke-linejoin="round"/>
<path d="M267.2 552.6L272.0 562.2L262.4 562.2Z" fill="#000000" stroke="#000000" stroke-width="0.8" stroke-linejoin="round"/>
<path d="M286.0 540.9L290.8 550.5L281.2 550.5Z" fill="#000000" stroke="#000000" stroke-width="0.8" stroke-linejoin="round"/>
<path d="M304.7 541.8L309.5 551.4L299.9 551.4Z" fill="#000000" stroke="#000000" stroke-width="0.8" stroke-linejoin="round"/>
<path d="M342.2 545.3L347.0 554.9L337.4 554.9Z" fill="#000000" stroke="#000000" stroke-width="0.8" stroke-linejoin="round"/>
<path d="M379.7 542.5L384.5 552.1L374.9 552.1Z" fill="#000000" stroke="#000000" stroke-width="0.8" stroke-linejoin="round"/>
<path d="M398.5 532.3L403.3 541.9L393.7 541.9Z" fill="#000000" stroke="#000000" stroke-width="0.8" stroke-linejoin="round"/>
<path d="M417.2 526.3L422.0 535.9L412.4 535.9Z" fill="#000000" stroke="#000000" stroke-width="0.8" stroke-linejoin="round"/>
<path d="M454.7 524.8L459.5 534.4L449.9 534.4Z" fill="#000000" stroke="#000000" stroke-width="0.8" stroke-linejoin="round"/>
<path d="M473.5 512.1L478.3 521.7L468.7 521.7Z" fill="#000000" stroke="#000000" stroke-width="0.8" stroke-linejoin="round"/>
<path d="M492.2 505.8L497.0 515.4L487.4 515.4Z" fill="#000000" stroke="#000000" stroke-width="0.8" stroke-linejoin="round"/>
<path d="M511.0 514.2L515.8 523.8L506.2 523.8Z" fill="#000000" stroke="#000000" stroke-width="0.8" stroke-linejoin="round"/>
<path d="M529.7 513.4L534.5 523.0L524.9 523.0Z" fill="#000000" stroke="#000000" stroke-width="0.8" stroke-linejoin="round"/>
<path d="M567.2 516.5L572.0 526.1L562.4 526.1Z" fill="#000000" stroke="#000000" stroke-width="0.8" stroke-linejoin="round"/>
<path d="M586.0 514.2L590.8 523.8L581.2 523.8Z" fill="#000000" stroke="#000000" stroke-width="0.8" stroke-linejoin="round"/>
<path d="M623.5 503.6L628.3 513.2L618.7 513.2Z" fill="#000000" stroke="#000000" stroke-width="0.8" stroke-linejoin="round"/>
<path d="M661.0 505.8L665.8 515.4L656.2 515.4Z" fill="#000000" stroke="#000000" stroke-width="0.8" stroke-linejoin="round"/>
<path d="M679.7 513.4L684.5 523.0L674.9 523.0Z" fill="#000000" stroke="#000000" stroke-width="0.8" stroke-linejoin="round"/>
<path d="M698.5 503.2L703.3 512.8L693.7 512.8Z" fill="#000000" stroke="#000000" stroke-width="0.8" stroke-linejoin="round"/>
<path d="M717.2 514.9L722.0 524.5L712.4 524.5Z" fill="#000000" stroke="#000000" stroke-width="0.8" stroke-linejoin="round"/>
<path d="M736.0 506.1L740.8 515.7L731.2 515.7Z" fill="#000000" stroke="#000000" stroke-width="0.8" stroke-linejoin="round"/>
<path d="M754.7 499.8L759.5 509.4L749.9 509.4Z" fill="#000000" stroke="#000000" stroke-width="0.8" stroke-linejoin="round"/>
<path d="M773.5 507.0L778.3 516.6L768.7 516.6Z" fill="#000000" stroke="#000000" stroke-width="0.8" stroke-linejoin="round"/>
<polyline points="79.8,555.6 117.3,576.7 154.7,576.4 173.5,573.2 192.2,572.6 211.0,569.6 229.7,559.3 248.5,559.0 267.2,562.5 286.0,558.7 304.7,553.6 342.2,558.0 379.7,555.5 398.5,537.5 417.2,536.5 454.7,546.6 473.5,554.9 492.2,549.8 511.0,548.5 529.7,549.8 567.2,539.7 586.0,542.5 623.5,541.6 661.0,539.7 679.7,544.1 698.5,545.7 717.2,548.5 736.0,556.3 754.7,553.8 773.5,538.6" fill="none" stroke="#cc66ff" stroke-width="3" stroke-linejoin="round" stroke-linecap="round"/>
<rect x="75.5" y="551.3" width="8.6" height="8.6" rx="1" fill="#cc66ff"/>
<rect x="113.0" y="572.4" width="8.6" height="8.6" rx="1" fill="#cc66ff"/>
<rect x="150.4" y="572.1" width="8.6" height="8.6" rx="1" fill="#cc66ff"/>
<rect x="169.2" y="568.9" width="8.6" height="8.6" rx="1" fill="#cc66ff"/>
<rect x="187.9" y="568.3" width="8.6" height="8.6" rx="1" fill="#cc66ff"/>
<rect x="206.7" y="565.3" width="8.6" height="8.6" rx="1" fill="#cc66ff"/>
<rect x="225.4" y="555.0" width="8.6" height="8.6" rx="1" fill="#cc66ff"/>
<rect x="244.2" y="554.7" width="8.6" height="8.6" rx="1" fill="#cc66ff"/>
<rect x="262.9" y="558.2" width="8.6" height="8.6" rx="1" fill="#cc66ff"/>
<rect x="281.7" y="554.4" width="8.6" height="8.6" rx="1" fill="#cc66ff"/>
<rect x="300.4" y="549.3" width="8.6" height="8.6" rx="1" fill="#cc66ff"/>
<rect x="337.9" y="553.7" width="8.6" height="8.6" rx="1" fill="#cc66ff"/>
<rect x="375.4" y="551.2" width="8.6" height="8.6" rx="1" fill="#cc66ff"/>
<rect x="394.2" y="533.2" width="8.6" height="8.6" rx="1" fill="#cc66ff"/>
<rect x="412.9" y="532.2" width="8.6" height="8.6" rx="1" fill="#cc66ff"/>
<rect x="450.4" y="542.3" width="8.6" height="8.6" rx="1" fill="#cc66ff"/>
<rect x="469.2" y="550.6" width="8.6" height="8.6" rx="1" fill="#cc66ff"/>
<rect x="487.9" y="545.5" width="8.6" height="8.6" rx="1" fill="#cc66ff"/>
<rect x="506.7" y="544.2" width="8.6" height="8.6" rx="1" fill="#cc66ff"/>
<rect x="525.4" y="545.5" width="8.6" height="8.6" rx="1" fill="#cc66ff"/>
<rect x="562.9" y="535.4" width="8.6" height="8.6" rx="1" fill="#cc66ff"/>
<rect x="581.7" y="538.2" width="8.6" height="8.6" rx="1" fill="#cc66ff"/>
<rect x="619.2" y="537.3" width="8.6" height="8.6" rx="1" fill="#cc66ff"/>
<rect x="656.7" y="535.4" width="8.6" height="8.6" rx="1" fill="#cc66ff"/>
<rect x="675.4" y="539.8" width="8.6" height="8.6" rx="1" fill="#cc66ff"/>
<rect x="694.2" y="541.4" width="8.6" height="8.6" rx="1" fill="#cc66ff"/>
<rect x="712.9" y="544.2" width="8.6" height="8.6" rx="1" fill="#cc66ff"/>
<rect x="731.7" y="552.0" width="8.6" height="8.6" rx="1" fill="#cc66ff"/>
<rect x="750.4" y="549.5" width="8.6" height="8.6" rx="1" fill="#cc66ff"/>
<rect x="769.2" y="534.3" width="8.6" height="8.6" rx="1" fill="#cc66ff"/>
<polyline points="79.8,570.2 117.3,575.1 154.7,580.4 173.5,582.1 192.2,586.1 211.0,579.8 229.7,577.0 248.5,583.0 267.2,576.4 286.0,582.7 304.7,579.6 342.2,578.9 379.7,585.9 398.5,587.1 417.2,587.1 454.7,588.4 473.5,585.9 492.2,587.1 511.0,592.8 529.7,586.1 567.2,588.7 586.0,592.8 623.5,592.8 661.0,589.7 679.7,588.4 698.5,588.4 717.2,588.4 736.0,586.5 754.7,586.5 773.5,587.1" fill="none" stroke="#e36c0a" stroke-width="3" stroke-linejoin="round" stroke-linecap="round"/>
<path d="M79.8 565.5L84.5 570.2L79.8 574.9L75.1 570.2Z" fill="#e36c0a" stroke="#e36c0a" stroke-width="1" stroke-linejoin="round"/>
<path d="M117.3 570.4L122.0 575.1L117.3 579.8L112.6 575.1Z" fill="#e36c0a" stroke="#e36c0a" stroke-width="1" stroke-linejoin="round"/>
<path d="M154.7 575.7L159.4 580.4L154.7 585.1L150.0 580.4Z" fill="#e36c0a" stroke="#e36c0a" stroke-width="1" stroke-linejoin="round"/>
<path d="M173.5 577.4L178.2 582.1L173.5 586.8L168.8 582.1Z" fill="#e36c0a" stroke="#e36c0a" stroke-width="1" stroke-linejoin="round"/>
<path d="M192.2 581.4L196.9 586.1L192.2 590.8L187.5 586.1Z" fill="#e36c0a" stroke="#e36c0a" stroke-width="1" stroke-linejoin="round"/>
<path d="M211.0 575.1L215.7 579.8L211.0 584.5L206.3 579.8Z" fill="#e36c0a" stroke="#e36c0a" stroke-width="1" stroke-linejoin="round"/>
<path d="M229.7 572.3L234.4 577.0L229.7 581.7L225.0 577.0Z" fill="#e36c0a" stroke="#e36c0a" stroke-width="1" stroke-linejoin="round"/>
<path d="M248.5 578.3L253.2 583.0L248.5 587.7L243.8 583.0Z" fill="#e36c0a" stroke="#e36c0a" stroke-width="1" stroke-linejoin="round"/>
<path d="M267.2 571.7L271.9 576.4L267.2 581.1L262.5 576.4Z" fill="#e36c0a" stroke="#e36c0a" stroke-width="1" stroke-linejoin="round"/>
<path d="M286.0 578.0L290.7 582.7L286.0 587.4L281.3 582.7Z" fill="#e36c0a" stroke="#e36c0a" stroke-width="1" stroke-linejoin="round"/>
<path d="M304.7 574.9L309.4 579.6L304.7 584.3L300.0 579.6Z" fill="#e36c0a" stroke="#e36c0a" stroke-width="1" stroke-linejoin="round"/>
<path d="M342.2 574.2L346.9 578.9L342.2 583.6L337.5 578.9Z" fill="#e36c0a" stroke="#e36c0a" stroke-width="1" stroke-linejoin="round"/>
<path d="M379.7 581.2L384.4 585.9L379.7 590.6L375.0 585.9Z" fill="#e36c0a" stroke="#e36c0a" stroke-width="1" stroke-linejoin="round"/>
<path d="M398.5 582.4L403.2 587.1L398.5 591.8L393.8 587.1Z" fill="#e36c0a" stroke="#e36c0a" stroke-width="1" stroke-linejoin="round"/>
<path d="M417.2 582.4L421.9 587.1L417.2 591.8L412.5 587.1Z" fill="#e36c0a" stroke="#e36c0a" stroke-width="1" stroke-linejoin="round"/>
<path d="M454.7 583.7L459.4 588.4L454.7 593.1L450.0 588.4Z" fill="#e36c0a" stroke="#e36c0a" stroke-width="1" stroke-linejoin="round"/>
<path d="M473.5 581.2L478.2 585.9L473.5 590.6L468.8 585.9Z" fill="#e36c0a" stroke="#e36c0a" stroke-width="1" stroke-linejoin="round"/>
<path d="M492.2 582.4L496.9 587.1L492.2 591.8L487.5 587.1Z" fill="#e36c0a" stroke="#e36c0a" stroke-width="1" stroke-linejoin="round"/>
<path d="M511.0 588.1L515.7 592.8L511.0 597.5L506.3 592.8Z" fill="#e36c0a" stroke="#e36c0a" stroke-width="1" stroke-linejoin="round"/>
<path d="M529.7 581.4L534.4 586.1L529.7 590.8L525.0 586.1Z" fill="#e36c0a" stroke="#e36c0a" stroke-width="1" stroke-linejoin="round"/>
<path d="M567.2 584.0L571.9 588.7L567.2 593.4L562.5 588.7Z" fill="#e36c0a" stroke="#e36c0a" stroke-width="1" stroke-linejoin="round"/>
<path d="M586.0 588.1L590.7 592.8L586.0 597.5L581.3 592.8Z" fill="#e36c0a" stroke="#e36c0a" stroke-width="1" stroke-linejoin="round"/>
<path d="M623.5 588.1L628.2 592.8L623.5 597.5L618.8 592.8Z" fill="#e36c0a" stroke="#e36c0a" stroke-width="1" stroke-linejoin="round"/>
<path d="M661.0 585.0L665.7 589.7L661.0 594.4L656.3 589.7Z" fill="#e36c0a" stroke="#e36c0a" stroke-width="1" stroke-linejoin="round"/>
<path d="M679.7 583.7L684.4 588.4L679.7 593.1L675.0 588.4Z" fill="#e36c0a" stroke="#e36c0a" stroke-width="1" stroke-linejoin="round"/>
<path d="M698.5 583.7L703.2 588.4L698.5 593.1L693.8 588.4Z" fill="#e36c0a" stroke="#e36c0a" stroke-width="1" stroke-linejoin="round"/>
<path d="M717.2 583.7L721.9 588.4L717.2 593.1L712.5 588.4Z" fill="#e36c0a" stroke="#e36c0a" stroke-width="1" stroke-linejoin="round"/>
<path d="M736.0 581.8L740.7 586.5L736.0 591.2L731.3 586.5Z" fill="#e36c0a" stroke="#e36c0a" stroke-width="1" stroke-linejoin="round"/>
<path d="M754.7 581.8L759.4 586.5L754.7 591.2L750.0 586.5Z" fill="#e36c0a" stroke="#e36c0a" stroke-width="1" stroke-linejoin="round"/>
<path d="M773.5 582.4L778.2 587.1L773.5 591.8L768.8 587.1Z" fill="#e36c0a" stroke="#e36c0a" stroke-width="1" stroke-linejoin="round"/>
<polyline points="79.8,583.0 117.3,584.9 154.7,600.2 173.5,593.6 192.2,592.8 211.0,588.4 229.7,589.2 248.5,588.0 267.2,591.6 286.0,588.0 304.7,589.7 342.2,595.8 379.7,584.4 398.5,580.2 417.2,585.9 454.7,584.4 473.5,594.2 492.2,597.3 511.0,577.0 529.7,576.4 567.2,583.0 586.0,590.3 623.5,578.3 661.0,588.0 679.7,581.7 698.5,583.3 717.2,584.0 736.0,585.2 754.7,588.7 773.5,584.9" fill="none" stroke="#00b0f0" stroke-width="3" stroke-linejoin="round" stroke-linecap="round"/>
<circle cx="79.8" cy="583.0" r="4.6" fill="#00b0f0"/>
<circle cx="117.3" cy="584.9" r="4.6" fill="#00b0f0"/>
<circle cx="154.7" cy="600.2" r="4.6" fill="#00b0f0"/>
<circle cx="173.5" cy="593.6" r="4.6" fill="#00b0f0"/>
<circle cx="192.2" cy="592.8" r="4.6" fill="#00b0f0"/>
<circle cx="211.0" cy="588.4" r="4.6" fill="#00b0f0"/>
<circle cx="229.7" cy="589.2" r="4.6" fill="#00b0f0"/>
<circle cx="248.5" cy="588.0" r="4.6" fill="#00b0f0"/>
<circle cx="267.2" cy="591.6" r="4.6" fill="#00b0f0"/>
<circle cx="286.0" cy="588.0" r="4.6" fill="#00b0f0"/>
<circle cx="304.7" cy="589.7" r="4.6" fill="#00b0f0"/>
<circle cx="342.2" cy="595.8" r="4.6" fill="#00b0f0"/>
<circle cx="379.7" cy="584.4" r="4.6" fill="#00b0f0"/>
<circle cx="398.5" cy="580.2" r="4.6" fill="#00b0f0"/>
<circle cx="417.2" cy="585.9" r="4.6" fill="#00b0f0"/>
<circle cx="454.7" cy="584.4" r="4.6" fill="#00b0f0"/>
<circle cx="473.5" cy="594.2" r="4.6" fill="#00b0f0"/>
<circle cx="492.2" cy="597.3" r="4.6" fill="#00b0f0"/>
<circle cx="511.0" cy="577.0" r="4.6" fill="#00b0f0"/>
<circle cx="529.7" cy="576.4" r="4.6" fill="#00b0f0"/>
<circle cx="567.2" cy="583.0" r="4.6" fill="#00b0f0"/>
<circle cx="586.0" cy="590.3" r="4.6" fill="#00b0f0"/>
<circle cx="623.5" cy="578.3" r="4.6" fill="#00b0f0"/>
<circle cx="661.0" cy="588.0" r="4.6" fill="#00b0f0"/>
<circle cx="679.7" cy="581.7" r="4.6" fill="#00b0f0"/>
<circle cx="698.5" cy="583.3" r="4.6" fill="#00b0f0"/>
<circle cx="717.2" cy="584.0" r="4.6" fill="#00b0f0"/>
<circle cx="736.0" cy="585.2" r="4.6" fill="#00b0f0"/>
<circle cx="754.7" cy="588.7" r="4.6" fill="#00b0f0"/>
<circle cx="773.5" cy="584.9" r="4.6" fill="#00b0f0"/>
<polyline points="79.8,593.8 117.3,596.0 154.7,595.1 173.5,596.6 192.2,594.1 211.0,594.1 229.7,598.2 248.5,594.1 267.2,596.0 286.0,596.6 304.7,597.3 342.2,591.6 379.7,589.7 398.5,589.0 417.2,587.1 454.7,590.9 473.5,589.7 492.2,594.1 511.0,590.3 529.7,590.9 567.2,591.1 586.0,588.7 623.5,589.9 661.0,594.1 679.7,589.7 698.5,590.9 717.2,593.0 736.0,585.2 754.7,584.6 773.5,585.2" fill="none" stroke="#ffc000" stroke-width="3" stroke-linejoin="round" stroke-linecap="round"/>
<rect x="75.2" y="592.1" width="9.2" height="3.4" fill="#ffc000"/>
<rect x="112.7" y="594.3" width="9.2" height="3.4" fill="#ffc000"/>
<rect x="150.1" y="593.4" width="9.2" height="3.4" fill="#ffc000"/>
<rect x="168.9" y="594.9" width="9.2" height="3.4" fill="#ffc000"/>
<rect x="187.6" y="592.4" width="9.2" height="3.4" fill="#ffc000"/>
<rect x="206.4" y="592.4" width="9.2" height="3.4" fill="#ffc000"/>
<rect x="225.1" y="596.5" width="9.2" height="3.4" fill="#ffc000"/>
<rect x="243.9" y="592.4" width="9.2" height="3.4" fill="#ffc000"/>
<rect x="262.6" y="594.3" width="9.2" height="3.4" fill="#ffc000"/>
<rect x="281.4" y="594.9" width="9.2" height="3.4" fill="#ffc000"/>
<rect x="300.1" y="595.6" width="9.2" height="3.4" fill="#ffc000"/>
<rect x="337.6" y="589.9" width="9.2" height="3.4" fill="#ffc000"/>
<rect x="375.1" y="588.0" width="9.2" height="3.4" fill="#ffc000"/>
<rect x="393.9" y="587.3" width="9.2" height="3.4" fill="#ffc000"/>
<rect x="412.6" y="585.4" width="9.2" height="3.4" fill="#ffc000"/>
<rect x="450.1" y="589.2" width="9.2" height="3.4" fill="#ffc000"/>
<rect x="468.9" y="588.0" width="9.2" height="3.4" fill="#ffc000"/>
<rect x="487.6" y="592.4" width="9.2" height="3.4" fill="#ffc000"/>
<rect x="506.4" y="588.6" width="9.2" height="3.4" fill="#ffc000"/>
<rect x="525.1" y="589.2" width="9.2" height="3.4" fill="#ffc000"/>
<rect x="562.6" y="589.4" width="9.2" height="3.4" fill="#ffc000"/>
<rect x="581.4" y="587.0" width="9.2" height="3.4" fill="#ffc000"/>
<rect x="618.9" y="588.2" width="9.2" height="3.4" fill="#ffc000"/>
<rect x="656.4" y="592.4" width="9.2" height="3.4" fill="#ffc000"/>
<rect x="675.1" y="588.0" width="9.2" height="3.4" fill="#ffc000"/>
<rect x="693.9" y="589.2" width="9.2" height="3.4" fill="#ffc000"/>
<rect x="712.6" y="591.3" width="9.2" height="3.4" fill="#ffc000"/>
<rect x="731.4" y="583.5" width="9.2" height="3.4" fill="#ffc000"/>
<rect x="750.1" y="582.9" width="9.2" height="3.4" fill="#ffc000"/>
<rect x="768.9" y="583.5" width="9.2" height="3.4" fill="#ffc000"/>
<polyline points="79.8,581.7 117.3,599.2 154.7,599.8 173.5,596.6 192.2,592.8 211.0,594.1 229.7,591.9 248.5,586.7 267.2,594.2 286.0,594.1 304.7,593.5 342.2,592.8 379.7,590.9 398.5,589.7 417.2,589.0 454.7,589.7 473.5,590.9 492.2,589.7 511.0,581.7 529.7,583.3 567.2,584.4 586.0,580.2 623.5,576.7 661.0,582.5 679.7,580.8 698.5,576.4 717.2,573.2 736.0,579.6 754.7,581.7 773.5,577.7" fill="none" stroke="#e8141c" stroke-width="3" stroke-linejoin="round" stroke-linecap="round"/>
<polyline points="79.8,593.5 117.3,596.6 154.7,598.9 173.5,599.8 192.2,593.5 211.0,595.4 229.7,591.1 248.5,595.8 267.2,598.2 286.0,598.9 304.7,596.0 342.2,595.1 379.7,594.1 398.5,595.1 417.2,590.3 454.7,593.8 473.5,585.9 492.2,588.7 511.0,585.6 529.7,584.9 567.2,584.9 586.0,585.6 623.5,587.1 661.0,585.6 679.7,589.7 698.5,587.8 717.2,585.6 736.0,584.6 754.7,584.6 773.5,585.6" fill="none" stroke="#0070c0" stroke-width="3" stroke-linejoin="round" stroke-linecap="round"/>
<rect x="75.2" y="591.8" width="9.2" height="3.4" fill="#0070c0"/>
<rect x="112.7" y="594.9" width="9.2" height="3.4" fill="#0070c0"/>
<rect x="150.1" y="597.2" width="9.2" height="3.4" fill="#0070c0"/>
<rect x="168.9" y="598.1" width="9.2" height="3.4" fill="#0070c0"/>
<rect x="187.6" y="591.8" width="9.2" height="3.4" fill="#0070c0"/>
<rect x="206.4" y="593.7" width="9.2" height="3.4" fill="#0070c0"/>
<rect x="225.1" y="589.4" width="9.2" height="3.4" fill="#0070c0"/>
<rect x="243.9" y="594.1" width="9.2" height="3.4" fill="#0070c0"/>
<rect x="262.6" y="596.5" width="9.2" height="3.4" fill="#0070c0"/>
<rect x="281.4" y="597.2" width="9.2" height="3.4" fill="#0070c0"/>
<rect x="300.1" y="594.3" width="9.2" height="3.4" fill="#0070c0"/>
<rect x="337.6" y="593.4" width="9.2" height="3.4" fill="#0070c0"/>
<rect x="375.1" y="592.4" width="9.2" height="3.4" fill="#0070c0"/>
<rect x="393.9" y="593.4" width="9.2" height="3.4" fill="#0070c0"/>
<rect x="412.6" y="588.6" width="9.2" height="3.4" fill="#0070c0"/>
<rect x="450.1" y="592.1" width="9.2" height="3.4" fill="#0070c0"/>
<rect x="468.9" y="584.2" width="9.2" height="3.4" fill="#0070c0"/>
<rect x="487.6" y="587.0" width="9.2" height="3.4" fill="#0070c0"/>
<rect x="506.4" y="583.9" width="9.2" height="3.4" fill="#0070c0"/>
<rect x="525.1" y="583.2" width="9.2" height="3.4" fill="#0070c0"/>
<rect x="562.6" y="583.2" width="9.2" height="3.4" fill="#0070c0"/>
<rect x="581.4" y="583.9" width="9.2" height="3.4" fill="#0070c0"/>
<rect x="618.9" y="585.4" width="9.2" height="3.4" fill="#0070c0"/>
<rect x="656.4" y="583.9" width="9.2" height="3.4" fill="#0070c0"/>
<rect x="675.1" y="588.0" width="9.2" height="3.4" fill="#0070c0"/>
<rect x="693.9" y="586.1" width="9.2" height="3.4" fill="#0070c0"/>
<rect x="712.6" y="583.9" width="9.2" height="3.4" fill="#0070c0"/>
<rect x="731.4" y="582.9" width="9.2" height="3.4" fill="#0070c0"/>
<rect x="750.1" y="582.9" width="9.2" height="3.4" fill="#0070c0"/>
<rect x="768.9" y="583.9" width="9.2" height="3.4" fill="#0070c0"/>
<polyline points="679.7,590.3 698.5,580.4 717.2,580.2 736.0,578.6 754.7,577.8 773.5,580.2" fill="none" stroke="#7030a0" stroke-width="3" stroke-linejoin="round" stroke-linecap="round"/>
<path d="M679.7 585.7L684.3 590.3L679.7 594.9L675.1 590.3Z" fill="#7030a0" stroke="#7030a0" stroke-width="1" stroke-linejoin="round"/>
<path d="M698.5 575.8L703.1 580.4L698.5 585.0L693.9 580.4Z" fill="#7030a0" stroke="#7030a0" stroke-width="1" stroke-linejoin="round"/>
<path d="M717.2 575.6L721.8 580.2L717.2 584.8L712.6 580.2Z" fill="#7030a0" stroke="#7030a0" stroke-width="1" stroke-linejoin="round"/>
<path d="M736.0 574.0L740.6 578.6L736.0 583.2L731.4 578.6Z" fill="#7030a0" stroke="#7030a0" stroke-width="1" stroke-linejoin="round"/>
<path d="M754.7 573.2L759.3 577.8L754.7 582.4L750.1 577.8Z" fill="#7030a0" stroke="#7030a0" stroke-width="1" stroke-linejoin="round"/>
<path d="M773.5 575.6L778.1 580.2L773.5 584.8L768.9 580.2Z" fill="#7030a0" stroke="#7030a0" stroke-width="1" stroke-linejoin="round"/>
<line x1="803.4" x2="828.4" y1="259.1" y2="259.1" stroke="#06b051" stroke-width="3.75" stroke-linecap="round"/>
<path d="M816.0 253.7L821.4 259.1L816.0 264.5L810.6 259.1Z" fill="#06b051" stroke="#06b051" stroke-width="2.4" stroke-linejoin="round"/>
<text transform="translate(830.8,265.2) scale(0.874,1)" font-size="15.8" font-weight="bold" fill="#000">Слуга народу</text>
<line x1="803.4" x2="828.4" y1="295.7" y2="295.7" stroke="#4f81bd" stroke-width="2.9" stroke-linecap="round"/>
<rect x="811.0" y="290.7" width="10.0" height="10.0" rx="1" fill="#4f81bd"/>
<text transform="translate(830.8,301.8) scale(0.874,1)" font-size="15.8" font-weight="bold" fill="#000">Опозиційна платформа</text>
<line x1="803.4" x2="828.4" y1="332.4" y2="332.4" stroke="#000000" stroke-width="2.9" stroke-linecap="round"/>
<path d="M816.0 327.3L820.8 336.9L811.2 336.9Z" fill="#000000" stroke="#000000" stroke-width="0.8" stroke-linejoin="round"/>
<text transform="translate(830.8,338.5) scale(0.874,1)" font-size="15.8" font-weight="bold" fill="#000">Європейська Солідарність</text>
<line x1="803.4" x2="828.4" y1="369.0" y2="369.0" stroke="#cc66ff" stroke-width="2.9" stroke-linecap="round"/>
<rect x="811.7" y="364.7" width="8.6" height="8.6" rx="1" fill="#cc66ff"/>
<text transform="translate(830.8,375.1) scale(0.874,1)" font-size="15.8" font-weight="bold" fill="#000">Батьківщина</text>
<line x1="803.4" x2="828.4" y1="405.6" y2="405.6" stroke="#e36c0a" stroke-width="2.9" stroke-linecap="round"/>
<path d="M816.0 400.9L820.7 405.6L816.0 410.3L811.3 405.6Z" fill="#e36c0a" stroke="#e36c0a" stroke-width="1" stroke-linejoin="round"/>
<text transform="translate(830.8,411.7) scale(0.874,1)" font-size="15.8" font-weight="bold" fill="#000">Голос</text>
<line x1="803.4" x2="828.4" y1="442.2" y2="442.2" stroke="#00b0f0" stroke-width="2.9" stroke-linecap="round"/>
<circle cx="816.0" cy="442.2" r="4.6" fill="#00b0f0"/>
<text transform="translate(830.8,448.4) scale(0.874,1)" font-size="15.8" font-weight="bold" fill="#000">Сила і честь</text>
<line x1="803.4" x2="828.4" y1="478.9" y2="478.9" stroke="#ffc000" stroke-width="2.9" stroke-linecap="round"/>
<rect x="811.4" y="477.2" width="9.2" height="3.4" fill="#ffc000"/>
<text transform="translate(830.8,485.0) scale(0.874,1)" font-size="15.8" font-weight="bold" fill="#000">Свобода</text>
<line x1="803.4" x2="828.4" y1="515.5" y2="515.5" stroke="#e8141c" stroke-width="2.9" stroke-linecap="round"/>
<text transform="translate(830.8,521.6) scale(0.874,1)" font-size="15.8" font-weight="bold" fill="#000">Радикальна партія</text>
<line x1="803.4" x2="828.4" y1="552.1" y2="552.1" stroke="#0070c0" stroke-width="2.9" stroke-linecap="round"/>
<rect x="811.4" y="550.4" width="9.2" height="3.4" fill="#0070c0"/>
<text transform="translate(830.8,558.2) scale(0.874,1)" font-size="15.8" font-weight="bold" fill="#000">Партія Шарія</text>
<line x1="803.4" x2="828.4" y1="588.8" y2="588.8" stroke="#7030a0" stroke-width="2.9" stroke-linecap="round"/>
<path d="M816.0 584.2L820.6 588.8L816.0 593.4L811.4 588.8Z" fill="#7030a0" stroke="#7030a0" stroke-width="1" stroke-linejoin="round"/>
<text transform="translate(830.8,594.9) scale(0.874,1)" font-size="15.8" font-weight="bold" fill="#000">За майбутнє</text>
<text transform="translate(104.5,722.7) scale(0.865,1)" font-size="16" fill="#111">група РЕЙТИНГ | Суспільно-політичні настрої населення | 16-20 грудня 2020</text>
<text transform="translate(985.6,726.8) scale(0.98,1)" font-size="16.5" fill="#111" text-anchor="end">28</text>
</svg></body></html>
